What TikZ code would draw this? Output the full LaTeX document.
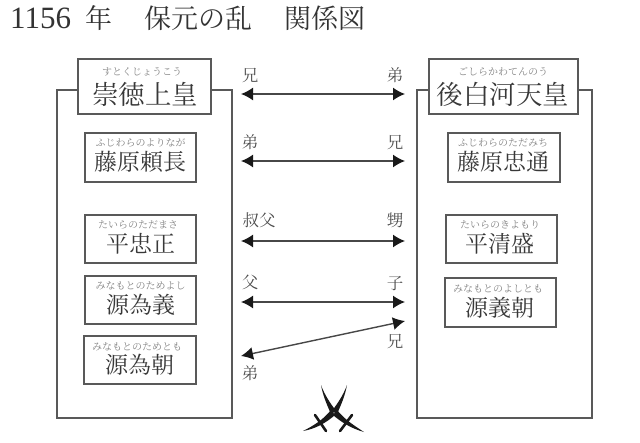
\documentclass[tikz,border=0pt]{standalone}
\usepackage{fontspec}
\setmainfont{Liberation Serif}
\newfontfamily\jp{Noto Serif CJK JP}
\usetikzlibrary{arrows.meta}
\tikzset{
  px/.style={x=1pt,y=-1pt},
  panel/.style={draw=black!65,line width=1.2pt},
  boxed/.style={draw=black!65,line width=1.2pt,fill=white,inner sep=0pt},
  kana/.style={font=\jp\fontsize{10}{11}\selectfont,text=black!50},
  bigname/.style={font=\jp\fontsize{26.5}{28}\selectfont,text=black!78},
  midname/.style={font=\jp\fontsize{23}{25}\selectfont,text=black!78},
  kin/.style={font=\jp\fontsize{16.5}{18}\selectfont,text=black!70},
  rel/.style={draw=black!72,line width=1.4pt,{Latex[length=12pt,width=13pt,black!90]}-{Latex[length=12pt,width=13pt,black!90]}},
  guard/.style={draw=black!90,line width=2.6pt,line cap=round}
}
\begin{document}
\begin{tikzpicture}[px]
\useasboundingbox (0,0) rectangle (640,442);
% two camps
\draw[panel] (57,90) -- (57,418) -- (232,418) -- (232,90) -- cycle;
\draw[panel] (417,90) -- (417,418) -- (592,418) -- (592,90) -- cycle;
% title
\node[anchor=west,inner sep=0pt,font=\fontsize{31}{33}\selectfont,text=black!80] (title) at (10,18)
  {1156\hspace{14pt}{\jp\fontsize{27}{30}\selectfont 年\hspace{32pt}保元の乱\hspace{32pt}関係図}};
% left camp
\node[boxed,minimum width=133pt,minimum height=55pt] (sutoku) at (144.5,86.5) {};
\node[kana] at (142,72) {すとくじょうこう};
\node[bigname] at (145,94) {崇徳上皇};
\node[boxed,minimum width=111pt,minimum height=49pt] (yorinaga) at (140.5,157.5) {};
\node[kana] at (140.5,143) {ふじわらのよりなが};
\node[midname] at (140.5,162) {藤原頼長};
\node[boxed,minimum width=111pt,minimum height=48pt] (tadamasa) at (140.5,239) {};
\node[kana] at (138,225) {たいらのただまさ};
\node[midname] at (141,244) {平忠正};
\node[boxed,minimum width=111pt,minimum height=48pt] (tameyoshi) at (140.5,300) {};
\node[kana] at (140.5,286) {みなもとのためよし};
\node[midname] at (140.5,305) {源為義};
\node[boxed,minimum width=112pt,minimum height=48pt] (tametomo) at (140,360) {};
\node[kana] at (137,347) {みなもとのためとも};
\node[midname] at (140,365) {源為朝};
% right camp
\node[boxed,minimum width=149pt,minimum height=55pt] (goshirakawa) at (503.5,86.5) {};
\node[kana] at (503,72) {ごしらかわてんのう};
\node[bigname] at (503,94) {後白河天皇};
\node[boxed,minimum width=112pt,minimum height=49pt] (tadamichi) at (504,157.5) {};
\node[kana] at (503,143) {ふじわらのただみち};
\node[midname] at (503,162) {藤原忠通};
\node[boxed,minimum width=111pt,minimum height=48pt] (kiyomori) at (501.5,239) {};
\node[kana] at (500,225) {たいらのきよもり};
\node[midname] at (500,244) {平清盛};
\node[boxed,minimum width=111pt,minimum height=49pt] (yoshitomo) at (500.5,302.5) {};
\node[kana] at (498,289) {みなもとのよしとも};
\node[midname] at (500,308) {源義朝};
% relation arrows
\coordinate (a1l) at (241,94); \coordinate (a1r) at (405,94);
\coordinate (a2l) at (241,161); \coordinate (a2r) at (405,161);
\coordinate (a3l) at (241,241); \coordinate (a3r) at (405,241);
\coordinate (a4l) at (241,302); \coordinate (a4r) at (405,302);
\coordinate (a5l) at (241,356); \coordinate (a5r) at (405,321);
\draw[rel] (a1l) -- (a1r);
\draw[rel] (a2l) -- (a2r);
\draw[rel] (a3l) -- (a3r);
\draw[rel] (a4l) -- (a4r);
\draw[rel] (a5l) -- (a5r);
% kinship labels
\node[kin] at (250,75) {兄};
\node[kin] at (395,75) {弟};
\node[kin] at (250,142) {弟};
\node[kin] at (395,142) {兄};
\node[kin] at (259,220) {叔父};
\node[kin] at (395,220) {甥};
\node[kin] at (250,282) {父};
\node[kin] at (395,284) {子};
\node[kin] at (395,341) {兄};
\node[kin] at (250,373) {弟};
% crossed swords: tapered blades, then the two hilts
\fill[black!90] (321,385) .. controls (325,396) and (331,404) .. (336,411) -- (331,414) .. controls (327,405) and (323,396) .. cycle;
\fill[black!90] (347,385) .. controls (343,396) and (337,404) .. (332,411) -- (337,414) .. controls (341,405) and (345,396) .. cycle;
\fill[black!90] (331,410) .. controls (323,420) and (313,426) .. (303,431) .. controls (315,429) and (326,423) .. (335,415) -- cycle;
\fill[black!90] (337,410) .. controls (345,420) and (355,426) .. (364,432) .. controls (353,429) and (342,423) .. (333,415) -- cycle;
\draw[guard] (315,415) -- (326,431);
\draw[guard] (352,415) -- (340,431);
\end{tikzpicture}
\end{document}
